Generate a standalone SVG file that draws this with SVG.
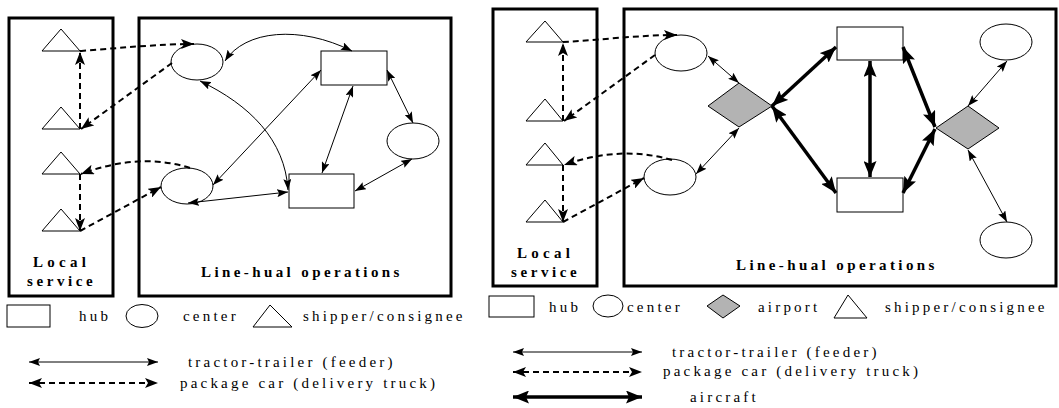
<svg xmlns="http://www.w3.org/2000/svg" width="1059" height="408" viewBox="0 0 1059 408">
<style>
.box{fill:none;stroke:#000;stroke-width:3}
.nd{fill:#fff;stroke:#000;stroke-width:1}
.ap{fill:#b3b3b3;stroke:#000;stroke-width:1}
.th{fill:none;stroke:#000;stroke-width:1;marker-start:url(#ah);marker-end:url(#ah)}
.dsh{fill:none;stroke:#000;stroke-width:2;stroke-dasharray:6 4}
.tk{fill:none;stroke:#000;stroke-width:3.5;marker-start:url(#at);marker-end:url(#at)}
.t{font-family:"Liberation Serif","Times New Roman",serif;font-size:15px;letter-spacing:3.2px;fill:#000}
.b{font-family:"Liberation Serif","Times New Roman",serif;font-size:15px;font-weight:bold;letter-spacing:3.4px;fill:#000}
</style>
<defs>
<marker id="ah" markerUnits="userSpaceOnUse" viewBox="0 0 11 8" refX="11" refY="4" markerWidth="11" markerHeight="8" orient="auto-start-reverse"><path d="M0,0 L11,4 L0,8 L2,4 z" fill="#000"/></marker>
<marker id="ad" markerUnits="userSpaceOnUse" viewBox="0 0 13 10" refX="13" refY="5" markerWidth="13" markerHeight="10" orient="auto-start-reverse"><path d="M0,0 L13,5 L0,10 L3,5 z" fill="#000"/></marker>
<marker id="at" markerUnits="userSpaceOnUse" viewBox="0 0 16 13" refX="16" refY="6.5" markerWidth="16" markerHeight="13" orient="auto-start-reverse"><path d="M0,0 L16,6.5 L0,13 L3,6.5 z" fill="#000"/></marker>
</defs>

<!-- LEFT DIAGRAM -->
<g id="left-local-box"><rect class="box" x="9" y="18" width="104" height="278"/>
<text class="b" x="33" y="267" style="letter-spacing:4.3px">Local</text>
<text class="b" x="27" y="286" style="letter-spacing:3.6px">service</text></g>
<g id="left-linehaul-box"><rect class="box" x="139" y="18" width="312" height="278"/>
<text class="b" x="201" y="277">Line-hual operations</text></g>

<g id="L-tri1"><polygon class="nd" points="42,51 61,29 80,51"/></g>
<g id="L-tri2"><polygon class="nd" points="42,129 61,107 80,129"/></g>
<g id="L-tri3"><polygon class="nd" points="42,174 61,152 80,174"/></g>
<g id="L-tri4"><polygon class="nd" points="42,231 61,209 80,231"/></g>
<g id="L-center1"><ellipse class="nd" cx="197" cy="62" rx="26" ry="18"/></g>
<g id="L-center2"><ellipse class="nd" cx="187" cy="186" rx="26" ry="18"/></g>
<g id="L-center3"><ellipse class="nd" cx="413" cy="141" rx="26" ry="18"/></g>
<g id="L-hub1"><rect class="nd" x="321" y="51" width="66" height="34"/></g>
<g id="L-hub2"><rect class="nd" x="289" y="174" width="65" height="34"/></g>

<g id="L-connectors">
<path class="dsh" d="M80,51 C120,48 160,44 194,44" marker-end="url(#ad)"/>
<path class="dsh" d="M172,63 L81,129" marker-end="url(#ad)"/>
<path class="dsh" d="M80,129 L80,52" marker-end="url(#ad)"/>
<path class="dsh" d="M190,168 Q140,152 81,174" marker-end="url(#ad)"/>
<path class="dsh" d="M80,174 L80,231" marker-end="url(#ad)"/>
<path class="dsh" d="M80,231 L161,187" marker-end="url(#ad)"/>
<path class="th" d="M225,61 C245,30 300,25 352,51"/>
<path class="th" d="M200,81 C250,105 285,140 288,190"/>
<path class="th" d="M321,70 L213,185"/>
<path class="th" d="M353,86 L322,173"/>
<path class="th" d="M387,70 L413,123"/>
<path class="th" d="M412,159 L355,191"/>
<path class="th" d="M188,203 L288,192"/>
</g>

<g id="L-legend">
<rect class="nd" x="7" y="305" width="43" height="22"/>
<text class="t" x="79" y="321">hub</text>
<ellipse class="nd" cx="142" cy="316" rx="16" ry="11.5"/>
<text class="t" x="183" y="321">center</text>
<polygon class="nd" points="253,327 270,305 292,327"/>
<text class="t" x="303" y="321">shipper/consignee</text>
<path class="th" d="M29,362 L158,362"/>
<text class="t" x="188" y="367">tractor-trailer (feeder)</text>
<path class="dsh" d="M29,383 L158,383" marker-start="url(#ad)" marker-end="url(#ad)"/>
<text class="t" x="180" y="388">package car (delivery truck)</text>
</g>

<!-- RIGHT DIAGRAM -->
<g id="right-local-box"><rect class="box" x="493" y="9" width="104" height="277"/>
<text class="b" x="517" y="258" style="letter-spacing:4.3px">Local</text>
<text class="b" x="511" y="277" style="letter-spacing:3.6px">service</text></g>
<g id="right-linehaul-box"><rect class="box" x="624" y="9" width="432" height="277"/>
<text class="b" x="736" y="270">Line-hual operations</text></g>

<g id="R-tri1"><polygon class="nd" points="526,42 545,21 563,42"/></g>
<g id="R-tri2"><polygon class="nd" points="526,121 545,99 563,121"/></g>
<g id="R-tri3"><polygon class="nd" points="526,165 545,143 563,165"/></g>
<g id="R-tri4"><polygon class="nd" points="526,222 545,200 563,222"/></g>
<g id="R-centerA"><ellipse class="nd" cx="681" cy="53" rx="26" ry="18"/></g>
<g id="R-centerB"><ellipse class="nd" cx="670" cy="177" rx="26" ry="18"/></g>
<g id="R-centerC"><ellipse class="nd" cx="1006" cy="42" rx="26" ry="18"/></g>
<g id="R-centerD"><ellipse class="nd" cx="1006" cy="240" rx="26" ry="18"/></g>
<g id="R-airport1"><polygon class="ap" points="708,106 739,83 772,106 739,127"/></g>
<g id="R-airport2"><polygon class="ap" points="936,128 968,106 999,128 968,149"/></g>
<g id="R-hub1"><rect class="nd" x="837" y="27" width="66" height="33"/></g>
<g id="R-hub2"><rect class="nd" x="837" y="178" width="66" height="34"/></g>

<g id="R-connectors">
<path class="dsh" d="M563,42 C600,40 640,35 677,35" marker-end="url(#ad)"/>
<path class="dsh" d="M655,55 L564,121" marker-end="url(#ad)"/>
<path class="dsh" d="M563,121 L563,43" marker-end="url(#ad)"/>
<path class="dsh" d="M672,160 Q620,145 564,165" marker-end="url(#ad)"/>
<path class="dsh" d="M563,165 L563,222" marker-end="url(#ad)"/>
<path class="dsh" d="M563,222 L644,178" marker-end="url(#ad)"/>
<path class="th" d="M708,56 L739,83"/>
<path class="th" d="M739,128 L696,174"/>
<path class="th" d="M1007,61 L968,106"/>
<path class="th" d="M968,150 L1007,222"/>
<path class="tk" d="M772,106 L836,47"/>
<path class="tk" d="M772,106 L836,193"/>
<path class="tk" d="M870,61 L870,177"/>
<path class="tk" d="M903,47 L935,127"/>
<path class="tk" d="M903,193 L935,129"/>
</g>

<g id="R-legend">
<rect class="nd" x="489" y="296" width="45" height="21"/>
<text class="t" x="549" y="312">hub</text>
<ellipse class="nd" cx="608" cy="306" rx="15" ry="11"/>
<text class="t" x="627" y="312">center</text>
<polygon class="ap" points="707,306 723,295 740,306 723,318"/>
<text class="t" x="758" y="312">airport</text>
<polygon class="nd" points="834,318 848,295 867,318"/>
<text class="t" x="885" y="312">shipper/consignee</text>
<path class="th" d="M513,352 L642,352"/>
<text class="t" x="672" y="357">tractor-trailer (feeder)</text>
<path class="dsh" d="M513,372 L642,372" marker-start="url(#ad)" marker-end="url(#ad)"/>
<text class="t" x="663" y="376">package car (delivery truck)</text>
<path class="tk" d="M513,397 L642,397"/>
<text class="t" x="690" y="402">aircraft</text>
</g>
</svg>
